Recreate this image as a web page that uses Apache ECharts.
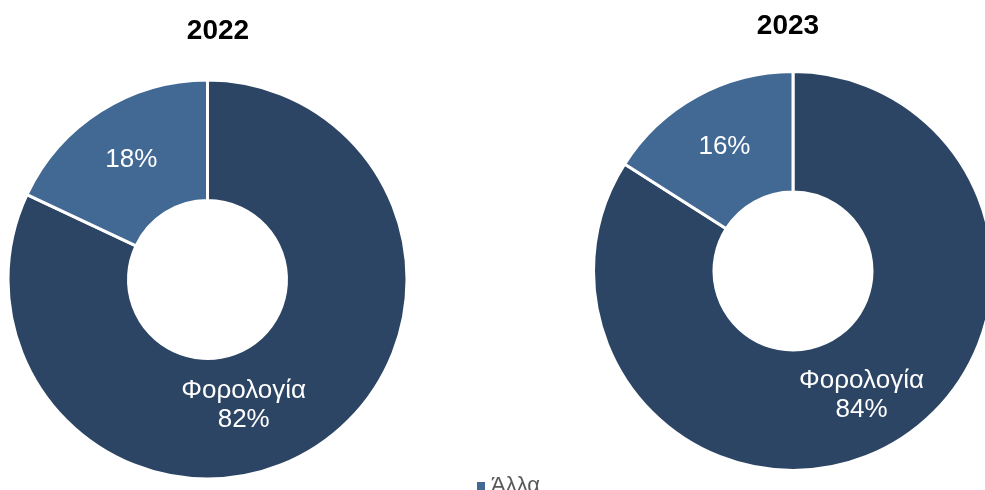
<!DOCTYPE html>
<html>
<head>
<meta charset="utf-8">
<script src="https://cdn.jsdelivr.net/npm/echarts@6/dist/echarts.min.js"></script>
<style>
html,body{margin:0;padding:0;background:#fff;}
#chart{width:985px;height:490px;}
</style>
</head>
<body>
<div id="chart"></div>
<script>
var categories = ['Φορολογία', 'Άλλα'];
var years = ['2022', '2023'];
var values2022 = [82, 18];
var values2023 = [84, 16];
var legendItems = ['Άλλα'];

var FONT = '"Liberation Sans", Arial, sans-serif';
var colors = ['#2D4564', '#426894'];

function buildData(values, bigOffset) {
  return categories.map(function (c, i) {
    var item = {
      name: c,
      value: values[i],
      itemStyle: { color: colors[i] },
      label: {
        formatter: i === 0 ? '{b}\n{c}%' : '{c}%'
      }
    };
    if (i === 0 && bigOffset) item.label.offset = bigOffset;
    return item;
  });
}

var chart = echarts.init(document.getElementById('chart'));
var commonSeries = {
  type: 'pie',
  radius: [79, 199.5],
  startAngle: 90,
  clockwise: true,
  avoidLabelOverlap: false,
  silent: true,
  itemStyle: { borderColor: '#ffffff', borderWidth: 3 },
  label: {
    show: true,
    position: 'inside',
    color: '#ffffff',
    fontFamily: FONT,
    fontSize: 26,
    lineHeight: 29
  },
  labelLine: { show: false },
  emphasis: { disabled: true }
};

chart.setOption({
  animation: false,
  backgroundColor: '#ffffff',
  title: [
    { text: years[0], left: 213, top: 12, textAlign: 'center',
      textStyle: { fontFamily: FONT, fontSize: 28, fontWeight: 'bold', color: '#000' } },
    { text: years[1], left: 783, top: 7, textAlign: 'center',
      textStyle: { fontFamily: FONT, fontSize: 28, fontWeight: 'bold', color: '#000' } }
  ],
  legend: {
    data: legendItems,
    left: 475,
    top: 475,
    padding: 0,
    itemWidth: 10,
    itemHeight: 10,
    itemGap: 7,
    icon: 'rect',
    textStyle: { fontFamily: FONT, fontSize: 22, color: '#595959' }
  },
  series: [
    Object.assign({}, commonSeries, {
      name: years[0],
      center: [207.5, 279.5],
      data: buildData(values2022, [-40, 6])
    }),
    Object.assign({}, commonSeries, {
      name: years[1],
      center: [793, 271],
      data: buildData(values2023, null)
    })
  ]
});
</script>
</body>
</html>
